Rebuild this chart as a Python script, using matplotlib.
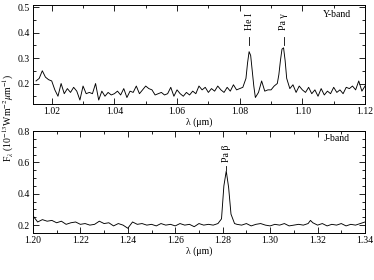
"""Y- and J-band spectra with emission line markers."""

import matplotlib.pyplot as plt
from matplotlib.ticker import MultipleLocator

plt.rcParams.update({"font.family": "Liberation Serif", "font.size": 7,
                     "mathtext.fontset": "stix"})

# Y band (1 nm grid plus half-step points across the two lines)
y_wl = [1.015 + 0.001 * i for i in range(106)]
y_flux = [
    0.21, 0.22, 0.25, 0.225, 0.215, 0.21, 0.175, 0.15, 0.20, 0.16,
    0.18, 0.165, 0.185, 0.17, 0.135, 0.19, 0.16, 0.165, 0.16, 0.20,
    0.135, 0.17, 0.15, 0.165, 0.155, 0.16, 0.17, 0.155, 0.18, 0.145,
    0.17, 0.165, 0.19, 0.16, 0.175, 0.19, 0.18, 0.175, 0.155, 0.16,
    0.165, 0.155, 0.16, 0.185, 0.15, 0.175, 0.16, 0.15, 0.165, 0.155,
    0.17, 0.16, 0.19, 0.175, 0.185, 0.165, 0.18, 0.17, 0.19, 0.175,
    0.165, 0.185, 0.17, 0.195, 0.175, 0.18, 0.185, 0.22, 0.325, 0.25,
    0.145, 0.165, 0.21, 0.17, 0.175, 0.175, 0.19, 0.20, 0.29, 0.34,
    0.22, 0.18, 0.195, 0.165, 0.19, 0.175, 0.165, 0.185, 0.16, 0.175,
    0.15, 0.18, 0.155, 0.17, 0.16, 0.185, 0.165, 0.175, 0.16, 0.185,
    0.18, 0.19, 0.175, 0.21, 0.17, 0.19,
]
y_wl_extra = [1.0825, 1.0835, 1.0845, 1.0925, 1.0935, 1.0945]
y_flux_extra = [0.28, 0.31, 0.19, 0.235, 0.335, 0.29]

# J band
j_wl = [
    1.200, 1.202, 1.204, 1.206, 1.208, 1.210, 1.212, 1.214, 1.216, 1.218,
    1.220, 1.222, 1.224, 1.226, 1.228, 1.230, 1.232, 1.234, 1.236, 1.238,
    1.240, 1.242, 1.244, 1.246, 1.248, 1.250, 1.252, 1.254, 1.256, 1.258,
    1.260, 1.262, 1.264, 1.266, 1.268, 1.270, 1.272, 1.274, 1.276, 1.278,
    1.2795, 1.2805, 1.2815, 1.2825, 1.2835, 1.285, 1.286, 1.288, 1.290,
    1.292, 1.294, 1.296, 1.298, 1.300, 1.302, 1.304, 1.306, 1.308, 1.310,
    1.312, 1.314, 1.316, 1.317, 1.318, 1.320, 1.322, 1.324, 1.326, 1.328,
    1.330, 1.332, 1.334, 1.336, 1.338, 1.340,
]
j_flux = [
    0.26, 0.22, 0.235, 0.225, 0.23, 0.215, 0.225, 0.205, 0.215, 0.22,
    0.205, 0.21, 0.20, 0.205, 0.225, 0.21, 0.215, 0.195, 0.21, 0.20,
    0.18, 0.22, 0.205, 0.21, 0.20, 0.205, 0.195, 0.21, 0.20, 0.205,
    0.195, 0.21, 0.20, 0.205, 0.19, 0.21, 0.20, 0.205, 0.20, 0.21,
    0.24, 0.45, 0.545, 0.44, 0.27, 0.21, 0.205, 0.20, 0.21,
    0.195, 0.205, 0.21, 0.20, 0.195, 0.205, 0.20, 0.21, 0.195, 0.20,
    0.205, 0.20, 0.21, 0.23, 0.215, 0.20, 0.21, 0.195, 0.205, 0.20,
    0.21, 0.195, 0.205, 0.20, 0.21, 0.22,
]

y_lines = ["He I", "Pa \u03b3"]
y_line_wl = [1.083, 1.094]
j_lines = ["Pa \u03b2"]
j_line_wl = [1.2815]

y_pts = sorted(zip(y_wl + y_wl_extra, y_flux + y_flux_extra))

fig = plt.figure(figsize=(3.74, 2.80), dpi=100)
ax1 = fig.add_axes([0.088, 0.629, 0.888, 0.353])
ax2 = fig.add_axes([0.088, 0.168, 0.888, 0.364])


def style(ax, xmaj, ymaj, ymin):
    ax.xaxis.set_major_locator(MultipleLocator(xmaj))
    ax.xaxis.set_minor_locator(MultipleLocator(xmaj / 2))
    ax.yaxis.set_major_locator(MultipleLocator(ymaj))
    ax.yaxis.set_minor_locator(MultipleLocator(ymin))
    ax.tick_params(which="both", direction="in", top=True, right=True,
                   width=0.6, pad=2)
    ax.tick_params(which="major", length=4)
    ax.tick_params(which="minor", length=2)
    for s in ax.spines.values():
        s.set_linewidth(0.7)
    ax.set_xlabel("\u03bb (\u03bcm)", labelpad=1)
    ax.xaxis.set_major_formatter(lambda v, p: f"{v:.2f}")


ax1.plot([p[0] for p in y_pts], [p[1] for p in y_pts], color="k", lw=0.65)
ax1.set_xlim(1.014, 1.12)
ax1.set_ylim(0.12, 0.508)
style(ax1, 0.02, 0.1, 0.05)
for name, wl in zip(y_lines, y_line_wl):
    ax1.plot([wl, wl], [0.35, 0.382], color="k", lw=0.6)
    ax1.text(wl, 0.41, name, rotation=90, ha="center", va="bottom")
ax1.text(0.915, 0.9, "Y-band", transform=ax1.transAxes, ha="center",
         va="center")

ax2.plot(j_wl, j_flux, color="k", lw=0.65)
ax2.set_xlim(1.20, 1.34)
ax2.set_ylim(0.15, 0.80)
style(ax2, 0.02, 0.2, 0.05)
for name, wl in zip(j_lines, j_line_wl):
    ax2.plot([wl, wl], [0.55, 0.58], color="k", lw=0.6)
    ax2.text(wl, 0.60, name, rotation=90, ha="center", va="bottom")
ax2.text(0.915, 0.93, "J-band", transform=ax2.transAxes, ha="center",
         va="center")

fig.text(0.022, 0.58,
         r"F$_\lambda$ (10$^{-13}$Wm$^{-2}$$\mu$m$^{-1}$)",
         rotation=90, ha="center", va="center")

fig.savefig("out.png", dpi=100)
